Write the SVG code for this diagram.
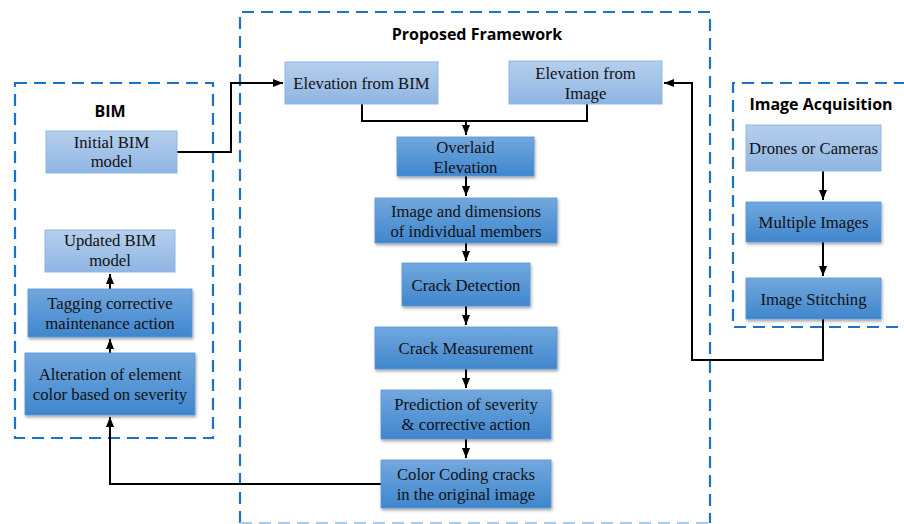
<svg xmlns="http://www.w3.org/2000/svg" width="904" height="524" viewBox="0 0 904 524">
<defs>
<linearGradient id="gl" x1="0" y1="0" x2="0" y2="1"><stop offset="0" stop-color="#b5cfec"/><stop offset="1" stop-color="#8fb5e3"/></linearGradient>
<linearGradient id="gd" x1="0" y1="0" x2="0" y2="1"><stop offset="0" stop-color="#72a8de"/><stop offset="1" stop-color="#3f86cd"/></linearGradient>
<filter id="sh" x="-10%" y="-10%" width="125%" height="135%"><feDropShadow dx="1" dy="2" stdDeviation="1.5" flood-color="#000" flood-opacity="0.35"/></filter>
<marker id="ah" viewBox="0 0 10 10" refX="10" refY="5" markerWidth="5" markerHeight="5" orient="auto"><path d="M0,1 L10,5 L0,9 z" fill="#000"/></marker>
</defs>
<style>
.grp{fill:none;stroke:#1a73c8;stroke-width:2.2;stroke-dasharray:12,7}
.lt{fill:url(#gl);stroke:#8db6e6;stroke-width:1}
.dk{fill:url(#gd);stroke:#5b96d6;stroke-width:0.8;filter:url(#sh)}
.t{font-family:'Liberation Serif','Times New Roman',serif;font-size:16.7px;fill:#111;text-anchor:middle}
.h{font-family:'Open Sans','Liberation Sans',sans-serif;font-weight:bold;font-size:16px;fill:#000;text-anchor:middle}
.c{fill:none;stroke:#000;stroke-width:2}
</style>
<g id="groups">
<rect class="grp" x="15" y="83" width="198" height="355"/>
<path class="grp" d="M240,523 L240,12 L710,12 L710,523"/>
<path d="M240,523 L710,523" fill="none" stroke="#a9cbe8" stroke-width="2" stroke-dasharray="12,7"/>
<path class="grp" d="M906,83 L733,83 L733,327 L906,327"/>
<text class="h" x="110" y="117">BIM</text>
<text class="h" x="477" y="40">Proposed Framework</text>
<text class="h" x="821" y="110">Image Acquisition</text>
</g>
<g id="connectors">
<path class="c" d="M177,152 H231 V83 H283" marker-end="url(#ah)"/>
<path class="c" d="M362,104 V121 H587 V104"/>
<path class="c" d="M466,121 V135" marker-end="url(#ah)"/>
<path class="c" d="M466,176 V196" marker-end="url(#ah)"/>
<path class="c" d="M466,243 V261" marker-end="url(#ah)"/>
<path class="c" d="M466,306 V325" marker-end="url(#ah)"/>
<path class="c" d="M466,369 V388" marker-end="url(#ah)"/>
<path class="c" d="M466,439 V458" marker-end="url(#ah)"/>
<path class="c" d="M381,484 H110 V417" marker-end="url(#ah)"/>
<path class="c" d="M110,353 V339" marker-end="url(#ah)"/>
<path class="c" d="M110,289 V274" marker-end="url(#ah)"/>
<path class="c" d="M823,171 V200" marker-end="url(#ah)"/>
<path class="c" d="M823,242 V276" marker-end="url(#ah)"/>
<path class="c" d="M823,319 V360 H692 V83 H664" marker-end="url(#ah)"/>
</g>
<g id="n-initial-bim"><rect class="lt" x="46" y="131" width="131" height="42"/><text class="t" x="111.5" y="148">Initial BIM</text><text class="t" x="111.5" y="167">model</text></g>
<g id="n-updated-bim"><rect class="lt" x="45" y="230" width="130" height="42"/><text class="t" x="110" y="246">Updated BIM</text><text class="t" x="110" y="266">model</text></g>
<g id="n-tagging"><rect class="dk" x="28" y="289" width="164" height="48"/><text class="t" x="110" y="309">Tagging corrective</text><text class="t" x="110" y="329">maintenance action</text></g>
<g id="n-alteration"><rect class="dk" x="25" y="353" width="170" height="62"/><text class="t" x="110" y="380">Alteration of element</text><text class="t" x="110" y="400">color based on severity</text></g>
<g id="n-elev-bim"><rect class="lt" x="285" y="62" width="153" height="42"/><text class="t" x="361.5" y="89">Elevation from BIM</text></g>
<g id="n-elev-image"><rect class="lt" x="509" y="61" width="153" height="43"/><text class="t" x="585.5" y="79">Elevation from</text><text class="t" x="585.5" y="99">Image</text></g>
<g id="n-overlaid"><rect class="dk" x="397" y="137" width="137" height="39"/><text class="t" x="465.5" y="153">Overlaid</text><text class="t" x="465.5" y="173">Elevation</text></g>
<g id="n-image-dims"><rect class="dk" x="375" y="198" width="182" height="45"/><text class="t" x="466" y="217">Image and dimensions</text><text class="t" x="466" y="237">of individual members</text></g>
<g id="n-crack-detect"><rect class="dk" x="402" y="263" width="128" height="43"/><text class="t" x="466" y="291">Crack Detection</text></g>
<g id="n-crack-measure"><rect class="dk" x="375" y="327" width="182" height="42"/><text class="t" x="466" y="354">Crack Measurement</text></g>
<g id="n-prediction"><rect class="dk" x="381" y="390" width="170" height="49"/><text class="t" x="466" y="410">Prediction of severity</text><text class="t" x="466" y="430">&amp; corrective action</text></g>
<g id="n-color-coding"><rect class="dk" x="381" y="460" width="170" height="48"/><text class="t" x="466" y="480">Color Coding cracks</text><text class="t" x="466" y="500">in the original image</text></g>
<g id="n-drones"><rect class="lt" x="746" y="125" width="135" height="46"/><text class="t" x="813.5" y="154">Drones or Cameras</text></g>
<g id="n-multiple"><rect class="dk" x="746" y="202" width="135" height="40"/><text class="t" x="813.5" y="228">Multiple Images</text></g>
<g id="n-stitching"><rect class="dk" x="746" y="278" width="135" height="41"/><text class="t" x="813.5" y="305">Image Stitching</text></g>
</svg>
